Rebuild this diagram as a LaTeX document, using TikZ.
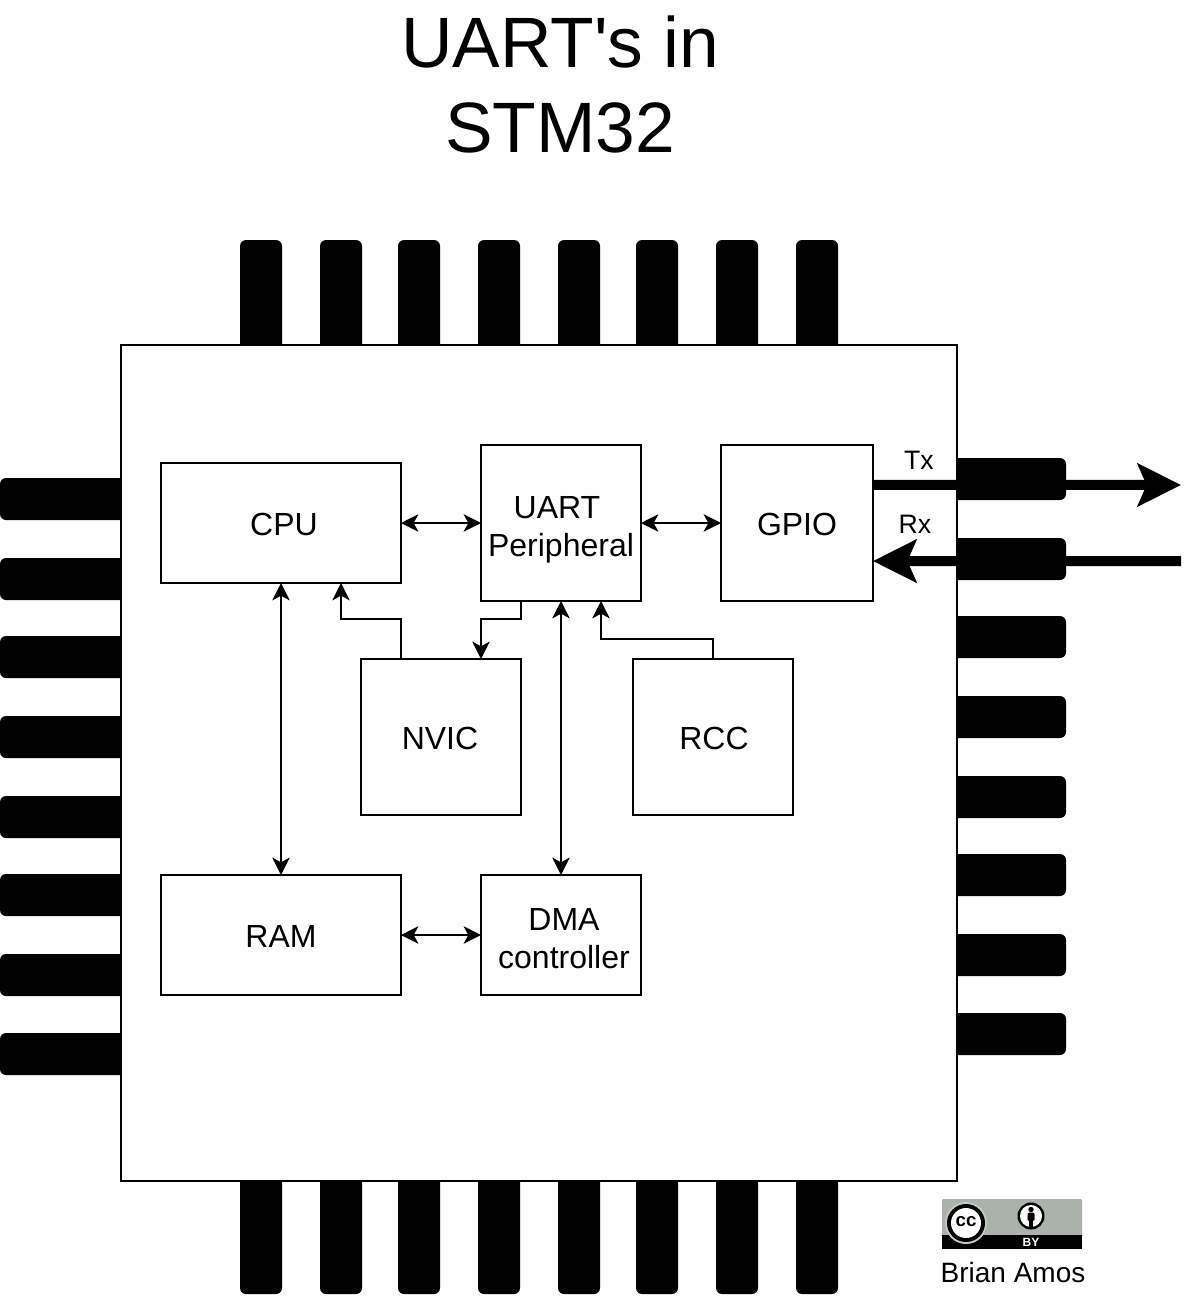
\documentclass[tikz,border=0pt]{standalone}
\usepackage{fontspec}
\setmainfont{Liberation Sans}
\usetikzlibrary{arrows.meta}
\usetikzlibrary{calc}

\definecolor{ccgrey}{HTML}{AAB2AB}

\tikzset{
  blockbox/.style={draw=black,fill=white,line width=1.5pt,inner sep=0pt,outer sep=0pt,align=center,font=\fontsize{24}{28.5}\selectfont},
  thinlink/.style={line width=1.5pt,{Stealth[length=13pt,width=13pt,inset=3.5pt]}-{Stealth[length=13pt,width=13pt,inset=3.5pt]}},
  onelink/.style={line width=1.5pt,-{Stealth[length=13pt,width=13pt,inset=3.5pt]}},
  buslink/.style={line width=7.5pt,-{Stealth[length=32.5pt,width=32pt,inset=6.75pt]}},
  pinbar/.style={fill=black,rounded corners=4.5pt},
  sigtext/.style={font=\fontsize{20}{24}\selectfont,inner sep=0pt},
}

\begin{document}
\begin{tikzpicture}[x=0.75pt,y=-0.75pt]
\useasboundingbox (0,0) rectangle (1202,1302);

\foreach \xa in {240,320,398,478,558,636,716,796}{
  \fill[pinbar] (\xa,240) rectangle (\xa+42,400);
  \fill[pinbar] (\xa,1100) rectangle (\xa+42,1294);
}
\foreach \ya in {478,558,636,716,796,874,954,1033}
  \fill[pinbar] (0,\ya) rectangle (200,\ya+42);
\foreach \ya in {458,538,616,696,776,854,934,1013}
  \fill[pinbar] (900,\ya) rectangle (1066,\ya+42);

\node[blockbox,minimum width=627pt,minimum height=627pt] (chip) at (539,763) {};

\node[font=\fontsize{53.5}{63.75}\selectfont,align=center,inner sep=0pt] (title) at (560,85) {UART\textquotesingle s in\\STM32};

\node[blockbox,minimum width=180pt,minimum height=90pt,text height=19pt] (cpu) at (281,523) {\hspace*{4.5pt}CPU};
\node[blockbox,minimum width=120pt,minimum height=117pt,text height=54.7pt] (uart) at (561,523) {UART\hspace*{6pt}\\Peripheral};
\node[blockbox,minimum width=114pt,minimum height=117pt,text height=19pt] (gpio) at (797,523) {GPIO};
\node[blockbox,minimum width=120pt,minimum height=117pt,text height=19pt] (nvic) at (441,737) {NVIC\hspace*{1.5pt}};
\node[blockbox,minimum width=120pt,minimum height=117pt,text height=19pt] (rcc) at (713,737) {\hspace*{1.5pt}RCC};
\node[blockbox,minimum width=180pt,minimum height=90pt,text height=19pt] (ram) at (281,935) {RAM};
\node[blockbox,minimum width=120pt,minimum height=90pt,text height=50.2pt] (dma) at (561,935) {\hspace*{4.5pt}DMA\\\hspace*{4.5pt}controller};

\draw[thinlink] (cpu.east) -- (uart.west);
\draw[thinlink] (uart.east) -- (gpio.west);
\draw[thinlink] (cpu.south) -- (ram.north);
\draw[thinlink] (uart.south) -- (dma.north);
\draw[thinlink] (ram.east) -- (dma.west);

\coordinate (nvicout) at ($(nvic.north west)!0.25!(nvic.north east)$);
\coordinate (cpuin) at ($(cpu.south west)!0.75!(cpu.south east)$);
\coordinate (uartout) at ($(uart.south west)!0.25!(uart.south east)$);
\coordinate (nvicin) at ($(nvic.north west)!0.75!(nvic.north east)$);
\coordinate (uartin) at ($(uart.south west)!0.75!(uart.south east)$);
\coordinate (upbend) at (0,619);
\coordinate (rccbend) at (0,639);
\draw[onelink] (nvicout) -- (nvicout |- upbend) -| (cpuin);
\draw[onelink] (uartout) -- (uartout |- upbend) -| (nvicin);
\draw[onelink] (rcc.north) -- (rcc.north |- rccbend) -| (uartin);

\coordinate (txout) at ($(gpio.north east)!0.256!(gpio.south east)$);
\coordinate (rxin) at ($(gpio.north east)!0.744!(gpio.south east)$);
\coordinate (txend) at (1181,485);
\coordinate (rxend) at (1181,561);
\draw[buslink] (txout) -- (txend);
\draw[buslink] (rxend) -- (rxin);
\node[sigtext] (txlabel) at (919,460) {Tx};
\node[sigtext] (rxlabel) at (915,524) {Rx};

% cc badge
\fill[ccgrey,rounded corners=1pt] (942,1199) rectangle (1082,1249);
\fill[black] (942,1235) rectangle (1082,1249);
\fill[ccgrey!70!white] (966,1223) circle (21);
\fill[black] (966,1223) circle (19);
\fill[white] (966,1223) circle (15);
\node[font=\fontsize{14}{14}\bfseries\selectfont,inner sep=0pt] (cclabel) at (966,1222) {cc};
\fill[black] (1031,1216) circle (13.5);
\fill[white] (1031,1216) circle (11);
\fill[black] (1031,1209.5) circle (2.7);
\fill[black,rounded corners=1pt] (1027.5,1212.5) rectangle (1034.5,1221);
\fill[black] (1029,1219) rectangle (1033,1227);
\node[font=\fontsize{9}{9}\bfseries\selectfont,text=white,inner sep=0pt] (bylabel) at (1031,1242) {BY};
\node[font=\fontsize{21}{24}\selectfont,inner sep=0pt] (author) at (1013,1272) {Brian Amos};

\end{tikzpicture}
\end{document}
